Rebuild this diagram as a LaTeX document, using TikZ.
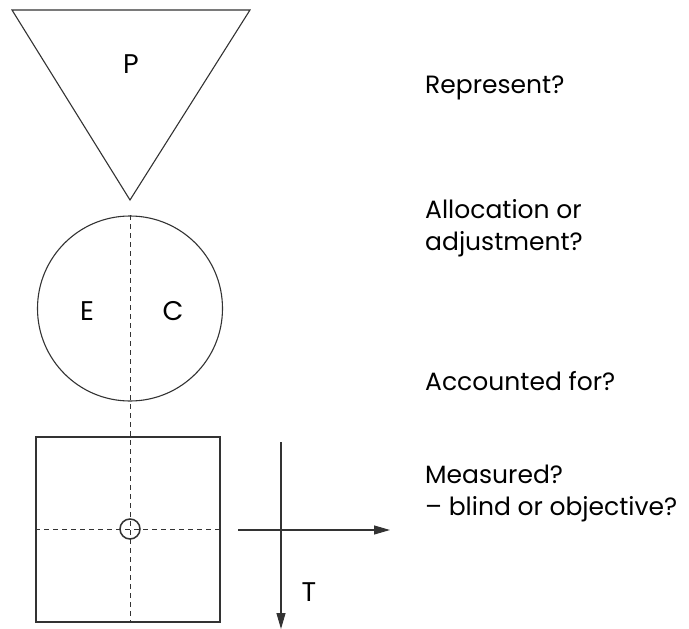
\documentclass[tikz,border=0pt]{standalone}
\usepackage{fontspec}
\setmainfont{Poppins}
\usetikzlibrary{arrows.meta}
\definecolor{ink}{HTML}{333333}
\tikzset{
  outline/.style={draw=ink, line width=1.1pt},
  guide/.style={draw=ink, line width=1pt, dash pattern=on 5pt off 4pt},
  axis/.style={draw=ink, line width=1.1pt},
  lbl/.style={font=\fontsize{27}{32}\selectfont, text=black, inner sep=0pt},
  q/.style={font=\fontsize{25}{32}\selectfont, text=black, inner sep=0pt, anchor=base west, align=left},
}
\begin{document}
\begin{tikzpicture}[x=1pt,y=-1pt]
\useasboundingbox (0,0) rectangle (689,629);
% triangle
\coordinate (tl) at (12,10);
\coordinate (tr) at (250,10);
\coordinate (ta) at (130,200);
\draw[outline] (tl) -- (tr) -- (ta) -- cycle;
\node[lbl] (P) at (131,64) {P};
% circle
\node[outline, circle, minimum size=185pt, inner sep=0pt] (ec) at (130,308.5) {};
\node[lbl] (E) at (87,311) {E};
\node[lbl] (C) at (173,311) {C};
% square
\node[outline, rectangle, minimum width=184pt, minimum height=185pt, inner sep=0pt] (sq) at (128,529.5) {};
% dashed guides
\coordinate (vb) at (130,622);
\draw[guide] (ec.north) -- (vb);
\draw[guide] (sq.west) -- (sq.east);
\node[draw=ink, line width=1.5pt, circle, minimum size=20pt, inner sep=0pt] (pt) at (130,529) {};
% axes
\coordinate (hx0) at (238,530);
\coordinate (hx1) at (390,530);
\coordinate (vy0) at (281,442);
\coordinate (vy1) at (281,629);
\draw[axis, -{Triangle[length=16pt,width=9pt]}] (hx0) -- (hx1);
\draw[axis, -{Triangle[length=16pt,width=9pt]}] (vy0) -- (vy1);
\node[lbl] (T) at (309,592) {T};
% questions
\node[q] (q1) at (425,93) {Represent?};
\node[q] (q2) at (425,250) {Allocation or\\adjustment?};
\node[q] (q3) at (425,390) {Accounted for?};
\node[q] (q4) at (425,515) {Measured?\\– blind or objective?};
\end{tikzpicture}
\end{document}
